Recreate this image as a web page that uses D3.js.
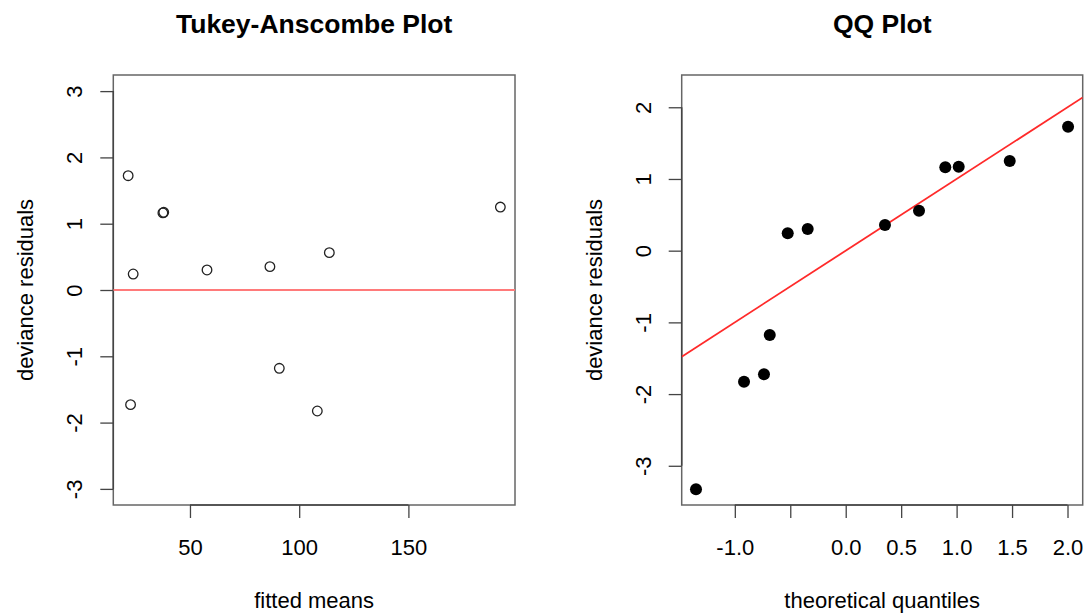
<!DOCTYPE html>
<html><head><meta charset="utf-8">
<script src="https://cdn.jsdelivr.net/npm/d3@7"></script>
<style>
body{margin:0;background:#fff;}
text{font-family:"Liberation Sans",Arial,Helvetica,sans-serif;fill:#000;}
</style></head>
<body><svg id="c" width="1086" height="614"></svg>
<script>
// Tukey-Anscombe data (visible points)
const fittedMeans = [21.7, 37.6, 38.0, 24.0, 57.8, 86.6, 113.8, 192.1, 90.9, 22.8, 108.3];
const devResiduals = [1.724, 1.163, 1.172, 0.241, 0.302, 0.352, 0.563, 1.251, -1.181, -1.729, -1.825];
const taXTicks = [50, 100, 150];
const taYTicks = [-3, -2, -1, 0, 1, 2, 3];
// QQ data
const theoQuantiles = [-1.350, -0.917, -0.737, -0.685, -0.523, -0.343, 0.354, 0.661, 0.898, 1.019, 1.479, 2.005];
const sortedResiduals = [-3.328, -1.827, -1.724, -1.176, 0.243, 0.303, 0.358, 0.558, 1.163, 1.172, 1.251, 1.729];
const qqXTicks = [-1, -0.5, 0, 0.5, 1, 1.5, 2];
const qqXTickLabels = ["-1.0", "", "0.0", "0.5", "1.0", "1.5", "2.0"];
const qqYTicks = [-3, -2, -1, 0, 1, 2];

const svg = d3.select("#c");
svg.append("rect").attr("width",1086).attr("height",614).attr("fill","#fff");

const plain = d => String(d);  // ASCII hyphen-minus, as in the reference

function panel(opt){
  const g = svg.append("g");
  const [x0,x1] = opt.xr, [y0,y1] = opt.yr;
  const x = d3.scaleLinear().domain(opt.xd).range([x0,x1]);
  const y = d3.scaleLinear().domain(opt.yd).range([y1,y0]);
  const cid = "clip"+opt.id;
  svg.append("clipPath").attr("id",cid).append("rect")
    .attr("x",x0).attr("y",y0).attr("width",x1-x0).attr("height",y1-y0);
  // box
  g.append("rect").attr("x",x0).attr("y",y0).attr("width",x1-x0).attr("height",y1-y0)
    .attr("fill","none").attr("stroke","#666").attr("stroke-width",1.5);
  // axes
  const xa = d3.axisBottom(x).tickValues(opt.xt).tickSize(13).tickSizeOuter(0)
    .tickFormat((d,i)=>opt.xl ? opt.xl[i] : plain(d));
  const gx = g.append("g").attr("transform",`translate(0,${y1})`).call(xa);
  gx.select(".domain").remove();
  gx.selectAll(".tick line").attr("stroke","#444").attr("stroke-width",1.3);
  gx.selectAll(".tick text").attr("font-size",22).attr("dy",null).attr("y",50)
    .attr("font-family","Liberation Sans, Arial, sans-serif").attr("fill","#111");
  g.append("line").attr("x1",x(opt.xt[0])).attr("x2",x(opt.xt[opt.xt.length-1]))
    .attr("y1",y1).attr("y2",y1).attr("stroke","#444").attr("stroke-width",1.5);
  const ya = d3.axisLeft(y).tickValues(opt.yt).tickSize(13).tickSizeOuter(0).tickFormat(plain);
  const gy = g.append("g").attr("transform",`translate(${x0},0)`).call(ya);
  gy.select(".domain").remove();
  gy.selectAll(".tick line").attr("stroke","#444").attr("stroke-width",1.3);
  gy.selectAll(".tick text").attr("font-size",22).attr("x",null).attr("dy",null)
    .attr("font-family","Liberation Sans, Arial, sans-serif").attr("fill","#111")
    .attr("text-anchor","middle").attr("transform","translate(-31,0) rotate(-90)");
  g.append("line").attr("x1",x0).attr("x2",x0)
    .attr("y1",y(opt.yt[0])).attr("y2",y(opt.yt[opt.yt.length-1]))
    .attr("stroke","#444").attr("stroke-width",1.5);
  // titles
  const cx = (x0+x1)/2;
  g.append("text").attr("x",cx).attr("y",33).attr("text-anchor","middle")
    .attr("font-size",26.5).attr("font-weight","bold").text(opt.title);
  g.append("text").attr("x",cx).attr("y",608).attr("text-anchor","middle")
    .attr("font-size",22).attr("fill","#111").text(opt.xlab);
  g.append("text").attr("transform",`translate(${x0-80},${(y0+y1)/2}) rotate(-90)`)
    .attr("text-anchor","middle").attr("font-size",22).attr("fill","#111").text(opt.ylab);
  const plot = g.append("g").attr("clip-path",`url(#${cid})`);
  return {x,y,plot};
}

// Left panel
const L = panel({id:"L", xr:[113.3,515], yr:[75,505], xd:[14.9,198.8], yd:[-3.243,3.243],
  xt:taXTicks, yt:taYTicks, title:"Tukey-Anscombe Plot", xlab:"fitted means", ylab:"deviance residuals"});
L.plot.append("line").attr("x1",L.x.range()[0]).attr("x2",L.x.range()[1])
  .attr("y1",L.y(0)).attr("y2",L.y(0)).attr("stroke","#ff7a7a").attr("stroke-width",1.8);
L.plot.selectAll("circle").data(fittedMeans).join("circle")
  .attr("cx",d=>L.x(d)).attr("cy",(d,i)=>L.y(devResiduals[i])).attr("r",4.8)
  .attr("fill","none").attr("stroke","#222").attr("stroke-width",1.3);

// Right panel
const R = panel({id:"R", xr:[681.7,1082.7], yr:[75,505], xd:[-1.479,2.137], yd:[-3.547,2.45],
  xt:qqXTicks, xl:qqXTickLabels, yt:qqYTicks, title:"QQ Plot", xlab:"theoretical quantiles", ylab:"deviance residuals"});
const xdR = R.x.domain();
R.plot.append("line").attr("x1",R.x(xdR[0])).attr("x2",R.x(xdR[1]))
  .attr("y1",R.y(xdR[0])).attr("y2",R.y(xdR[1])).attr("stroke","#ff2a2a").attr("stroke-width",1.8);
R.plot.selectAll("circle").data(theoQuantiles).join("circle")
  .attr("cx",d=>R.x(d)).attr("cy",(d,i)=>R.y(sortedResiduals[i])).attr("r",6)
  .attr("fill","#000");
</script></body></html>
